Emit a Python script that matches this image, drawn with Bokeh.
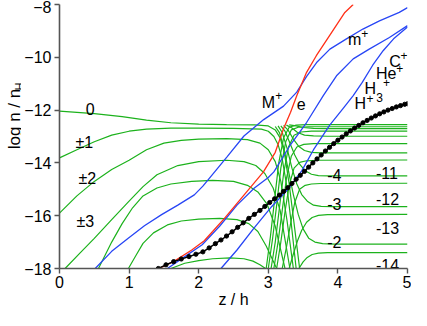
import math
from bokeh.plotting import figure
from bokeh.layouts import row
from bokeh.models import Range1d, FixedTicker
from bokeh.embed import file_html
from bokeh.resources import INLINE
from bokeh.core.properties import value

# ---------------- data ----------------
x_ticks = [0, 1, 2, 3, 4, 5]
y_ticks = [-18, -16, -14, -12, -10, -8]
y_tick_labels = ["\u221218", "\u221216", "\u221214", "\u221212", "\u221210", "\u22128"]

# grain charge states on the left (symmetric +-Z), falling off in the crossing zone
q0_x = [0, 0.5, 0.9, 1.25, 1.6, 2.0, 2.4, 2.8, 3.0, 3.1, 3.17, 3.23, 3.3, 3.38, 3.45]
q0_y = [-12.04, -12.13, -12.25, -12.38, -12.48, -12.53, -12.55, -12.56, -12.6, -12.75, -13.05, -13.6, -14.8, -16.5, -18.0]
q1_x = [0, 0.25, 0.5, 0.75, 1.0, 1.25, 1.6, 2.0, 2.5, 2.9, 3.0, 3.08, 3.14, 3.2, 3.27, 3.33, 3.4]
q1_y = [-13.81, -13.5, -13.2, -12.95, -12.8, -12.72, -12.68, -12.68, -12.69, -12.72, -12.8, -13.0, -13.3, -13.85, -14.95, -16.3, -18.0]
q2_x = [0, 0.25, 0.5, 0.75, 1.0, 1.25, 1.5, 1.75, 2.0, 2.4, 2.7, 2.88, 3.0, 3.1, 3.18, 3.27, 3.36]
q2_y = [-15.9, -15.25, -14.7, -14.25, -13.9, -13.5, -13.25, -13.15, -13.1, -13.08, -13.12, -13.25, -13.5, -13.95, -14.7, -16.2, -18.0]
q3_x = [0.08, 0.3, 0.5, 0.75, 1.0, 1.2, 1.4, 1.7, 2.0, 2.4, 2.65, 2.82, 2.95, 3.07, 3.17, 3.31]
q3_y = [-18.0, -17.4, -16.86, -16.15, -15.45, -14.9, -14.45, -14.1, -13.95, -13.9, -13.95, -14.1, -14.4, -14.95, -15.8, -18.0]
q4_x = [0.56, 0.75, 0.9, 1.05, 1.2, 1.4, 1.6, 1.9, 2.2, 2.5, 2.7, 2.85, 2.98, 3.1, 3.24]
q4_y = [-18.0, -17.0, -16.3, -15.7, -15.25, -14.95, -14.8, -14.7, -14.66, -14.7, -14.85, -15.1, -15.55, -16.4, -18.0]
q5_x = [0.99, 1.1, 1.2, 1.35, 1.55, 1.75, 2.0, 2.3, 2.55, 2.72, 2.85, 2.97, 3.12]
q5_y = [-18.0, -17.5, -17.05, -16.65, -16.35, -16.2, -16.13, -16.1, -16.15, -16.3, -16.6, -17.15, -18.0]
q6_x = [1.6, 1.8, 2.0, 2.2, 2.45, 2.65, 2.78, 2.88, 2.96]
q6_y = [-18.0, -17.8, -17.7, -17.63, -17.6, -17.63, -17.72, -17.86, -18.0]

# negative charge states on the right
n1_x = [3.3, 3.4, 3.5, 3.65, 3.85, 5.0]
n1_y = [-12.56, -12.6, -12.66, -12.69, -12.7, -12.7]
n2_x = [3.1, 3.16, 3.22, 3.29, 3.36, 3.43, 3.5, 3.58, 3.67, 3.78, 3.95, 5.0]
n2_y = [-12.62, -12.85, -13.4, -14.3, -15.2, -15.95, -16.5, -16.85, -17.0, -17.06, -17.08, -17.08]
n3_x = [3.14, 3.2, 3.27, 3.34, 3.41, 3.48, 3.56, 3.65, 3.76, 3.92, 5.0]
n3_y = [-12.6, -12.85, -13.45, -14.2, -14.8, -15.2, -15.45, -15.6, -15.65, -15.66, -15.66]
n4_x = [3.18, 3.24, 3.31, 3.38, 3.45, 3.53, 3.62, 3.72, 3.86, 5.0]
n4_y = [-12.6, -12.8, -13.25, -13.7, -14.05, -14.3, -14.43, -14.48, -14.49, -14.49]
n5_x = [3.22, 3.29, 3.36, 3.44, 3.52, 3.62, 3.75, 5.0]
n5_y = [-12.58, -12.78, -13.1, -13.38, -13.53, -13.6, -13.62, -13.62]
n6_x = [3.26, 3.34, 3.42, 3.52, 3.65, 3.85, 5.0]
n6_y = [-12.57, -12.68, -12.85, -12.95, -12.98, -12.99, -12.99]
n7_x = [2.97, 3.03, 3.09, 3.15, 3.22, 3.3, 3.4, 3.55, 5.0]
n7_y = [-18.0, -16.8, -15.4, -14.0, -13.05, -12.65, -12.57, -12.55, -12.55]
n8_x = [3.0, 3.06, 3.12, 3.18, 3.25, 3.33, 3.43, 3.58, 5.0]
n8_y = [-18.0, -16.9, -15.6, -14.2, -13.2, -12.75, -12.65, -12.63, -12.63]
n9_x = [3.04, 3.1, 3.16, 3.22, 3.29, 3.37, 3.47, 3.62, 5.0]
n9_y = [-18.0, -17.0, -15.7, -14.4, -13.4, -12.95, -12.83, -12.8, -12.8]
n10_x = [3.08, 3.14, 3.2, 3.26, 3.33, 3.41, 3.51, 3.65, 5.0]
n10_y = [-18.0, -17.0, -15.8, -14.6, -13.75, -13.4, -13.3, -13.27, -13.27]
n11_x = [3.12, 3.18, 3.24, 3.3, 3.37, 3.45, 3.55, 3.7, 5.0]
n11_y = [-18.0, -17.0, -15.85, -14.85, -14.2, -13.98, -13.92, -13.9, -13.89]
n12_x = [3.2, 3.26, 3.32, 3.38, 3.45, 3.53, 3.62, 3.75, 5.0]
n12_y = [-18.0, -17.2, -16.3, -15.5, -15.0, -14.85, -14.8, -14.78, -14.77]
n13_x = [3.3, 3.36, 3.42, 3.48, 3.55, 3.63, 3.72, 3.85, 5.0]
n13_y = [-18.0, -17.45, -16.95, -16.55, -16.25, -16.07, -15.99, -15.96, -15.95]
n14_x = [3.44, 3.5, 3.56, 3.63, 3.72, 3.85, 5.0]
n14_y = [-18.0, -17.75, -17.58, -17.47, -17.42, -17.4, -17.4]

# ions (blue)
ionA_x = [0.513, 0.75, 0.983, 1.22, 1.467, 1.7, 1.937, 2.06, 2.179, 2.407, 2.65, 2.934, 3.219, 3.409, 3.551, 3.694, 3.885, 4.117, 4.359, 4.597, 4.882, 5.0]
ionA_y = [-18.0, -17.35, -16.86, -16.38, -15.96, -15.6, -15.21, -14.88, -14.5, -13.77, -12.98, -12.36, -11.85, -11.32, -10.72, -10.2, -9.69, -9.31, -8.93, -8.62, -8.3, -8.12]
ionB_x = [1.55, 1.8, 2.05, 2.3, 2.55, 2.8, 3.0, 3.08, 3.31, 3.55, 3.79, 3.98, 4.22, 4.45, 4.74, 5.0]
ionB_y = [-18.0, -17.55, -17.1, -16.4, -15.6, -14.95, -14.55, -14.34, -13.35, -12.47, -11.45, -10.7, -10.06, -9.69, -9.25, -8.8]
ionC_x = [2.32, 2.55, 2.8, 3.05, 3.3, 3.48, 3.65, 3.88, 4.07, 4.22, 4.35, 4.5, 4.65, 4.8, 5.0]
ionC_y = [-18.0, -17.3, -16.45, -15.65, -14.95, -14.3, -13.5, -12.58, -11.95, -11.45, -10.95, -10.3, -9.75, -9.3, -8.85]

# electrons (red)
elec_x = [1.43, 1.65, 1.9, 2.08, 2.2, 2.37, 2.65, 2.93, 3.1, 3.22, 3.32, 3.41, 3.55, 3.69, 3.88, 4.1, 4.22]
elec_y = [-18.0, -17.72, -17.3, -16.95, -16.6, -16.1, -15.22, -14.34, -13.6, -12.7, -12.08, -11.45, -10.57, -9.94, -9.18, -8.3, -8.0]

# black dotted curve
blk_x = [1.42, 1.53, 1.64, 1.75, 1.86, 1.96, 2.06, 2.15, 2.24, 2.32, 2.4, 2.48, 2.56, 2.64, 2.72, 2.8,
         2.88, 2.95, 3.02, 3.09, 3.16, 3.22, 3.28, 3.34, 3.4, 3.46, 3.52, 3.58, 3.64, 3.7, 3.76, 3.82,
         3.88, 3.94, 4.0, 4.06, 4.12, 4.18, 4.24, 4.3, 4.36, 4.42, 4.48, 4.54, 4.6, 4.66, 4.72, 4.78,
         4.84, 4.9, 4.96, 5.0]
blk_y = [-18.0, -17.86, -17.74, -17.64, -17.55, -17.46, -17.37, -17.22, -17.06, -16.92, -16.77, -16.61,
         -16.44, -16.27, -16.1, -15.95, -15.8, -15.65, -15.5, -15.36, -15.22, -15.08, -14.94, -14.78,
         -14.62, -14.47, -14.32, -14.16, -14.0, -13.85, -13.7, -13.55, -13.41, -13.27, -13.14, -13.02,
         -12.9, -12.79, -12.68, -12.58, -12.48, -12.39, -12.3, -12.22, -12.14, -12.07, -12.0, -11.94,
         -11.88, -11.83, -11.78, -11.76]

green_curves = [(q0_x, q0_y), (q1_x, q1_y), (q2_x, q2_y), (q3_x, q3_y), (q4_x, q4_y), (q5_x, q5_y),
                (q6_x, q6_y), (n1_x, n1_y), (n2_x, n2_y), (n3_x, n3_y), (n4_x, n4_y), (n5_x, n5_y),
                (n6_x, n6_y), (n7_x, n7_y), (n8_x, n8_y), (n9_x, n9_y), (n10_x, n10_y), (n11_x, n11_y),
                (n12_x, n12_y), (n13_x, n13_y), (n14_x, n14_y)]
blue_curves = [(ionA_x, ionA_y), (ionB_x, ionB_y), (ionC_x, ionC_y)]

x_title = "z / h"
y_title = "log n / n"
y_title_sub = "H"

# ---------------- plot ----------------
FONT = "Liberation Sans"
GREEN = "#1cb21c"
BLUE = "#2846f5"
RED = "#ff3018"

LEFT_W = 21
MAIN_W = 411 - LEFT_W
H_ALL = 310

p = figure(width=MAIN_W, height=H_ALL, x_range=Range1d(0, 5), y_range=Range1d(-18, -8),
           output_backend="svg", toolbar_location=None,
           min_border_left=35, min_border_right=4, min_border_top=4, min_border_bottom=41)
p.outline_line_color = None
p.grid.visible = False

for ax in (p.xaxis, p.yaxis):
    ax.axis_line_color = "#555555"
    ax.axis_line_width = 1.6
    ax.major_tick_line_color = "#555555"
    ax.major_tick_line_width = 1.4
    ax.major_tick_out = 5
    ax.major_tick_in = 0
    ax.minor_tick_out = 0
    ax.minor_tick_in = 0
    ax.major_label_text_font = FONT
    ax.major_label_text_font_size = "16px"
    ax.major_label_text_color = "black"

p.yaxis.major_label_standoff = 3
p.xaxis.major_label_standoff = 2
p.xaxis.ticker = FixedTicker(ticks=x_ticks)
p.yaxis.ticker = FixedTicker(ticks=y_ticks)
p.yaxis.major_label_overrides = {t: s for t, s in zip(y_ticks, y_tick_labels)}

p.xaxis.axis_label = x_title
p.xaxis.axis_label_standoff = 0
p.xaxis.axis_label_text_font = FONT
p.xaxis.axis_label_text_font_size = "16px"
p.xaxis.axis_label_text_font_style = "normal"
p.xaxis.axis_label_text_color = "black"

for cx, cy in green_curves:
    p.line(cx, cy, line_color=GREEN, line_width=1.2)
for cx, cy in blue_curves:
    p.line(cx, cy, line_color=BLUE, line_width=1.3)
p.line(elec_x, elec_y, line_color=RED, line_width=1.3)
p.line(blk_x, blk_y, line_color="black", line_width=1.5)
p.scatter(blk_x, blk_y, size=4.2, fill_color="black", line_color="black")


def txt(fig, x, y, s, size="16px", align="left", angle=0.0):
    fig.text(x=[x], y=[y], text=[s], text_font=value(FONT), text_font_size=value(size),
             text_align=align, text_baseline="alphabetic", text_color="black", angle=angle)


# charge labels (left)
txt(p, 0.44, -11.96, "0", align="center")
txt(p, 0.356, -13.245, "\u00b11", align="center")
txt(p, 0.399, -14.6, "\u00b12", align="center")
txt(p, 0.37, -16.23, "\u00b13", align="center")
# charge labels (right)
txt(p, 3.846, -14.45, "-4")
txt(p, 3.846, -15.56, "-3")
txt(p, 3.846, -17.0, "-2")
txt(p, 4.548, -14.37, "-11")
txt(p, 4.548, -15.35, "-12")
txt(p, 4.548, -16.48, "-13")
txt(p, 4.548, -17.86, "-14")
# species labels
txt(p, 2.906, -11.70, "M")
txt(p, 3.10, -11.45, "+", size="12px")
txt(p, 3.409, -11.76, "e")
txt(p, 4.145, -9.31, "m")
txt(p, 4.335, -9.1, "+", size="12px")
txt(p, 4.739, -10.16, "C")
txt(p, 4.90, -9.92, "+", size="12px")
txt(p, 4.548, -10.63, "He")
txt(p, 4.84, -10.42, "+", size="12px")
txt(p, 4.383, -11.17, "H")
txt(p, 4.55, -11.51, "3", size="12px")
txt(p, 4.647, -10.94, "+", size="12px")
txt(p, 4.24, -11.76, "H")
txt(p, 4.41, -11.56, "+", size="12px")

# left strip with the rotated y title
lf = figure(width=LEFT_W, height=H_ALL, x_range=Range1d(0, LEFT_W), y_range=Range1d(0, H_ALL),
            output_backend="svg", toolbar_location=None, x_axis_type=None, y_axis_type=None,
            min_border_left=0, min_border_right=0, min_border_top=0, min_border_bottom=0)
lf.outline_line_color = None
lf.grid.visible = False
txt(lf, 13.5, 140, y_title, size="17px", angle=math.pi / 2)
txt(lf, 18.5, 209, y_title_sub, size="11px", angle=math.pi / 2)

layout = row(lf, p)
open("out.html", "w").write(file_html(layout, INLINE))
